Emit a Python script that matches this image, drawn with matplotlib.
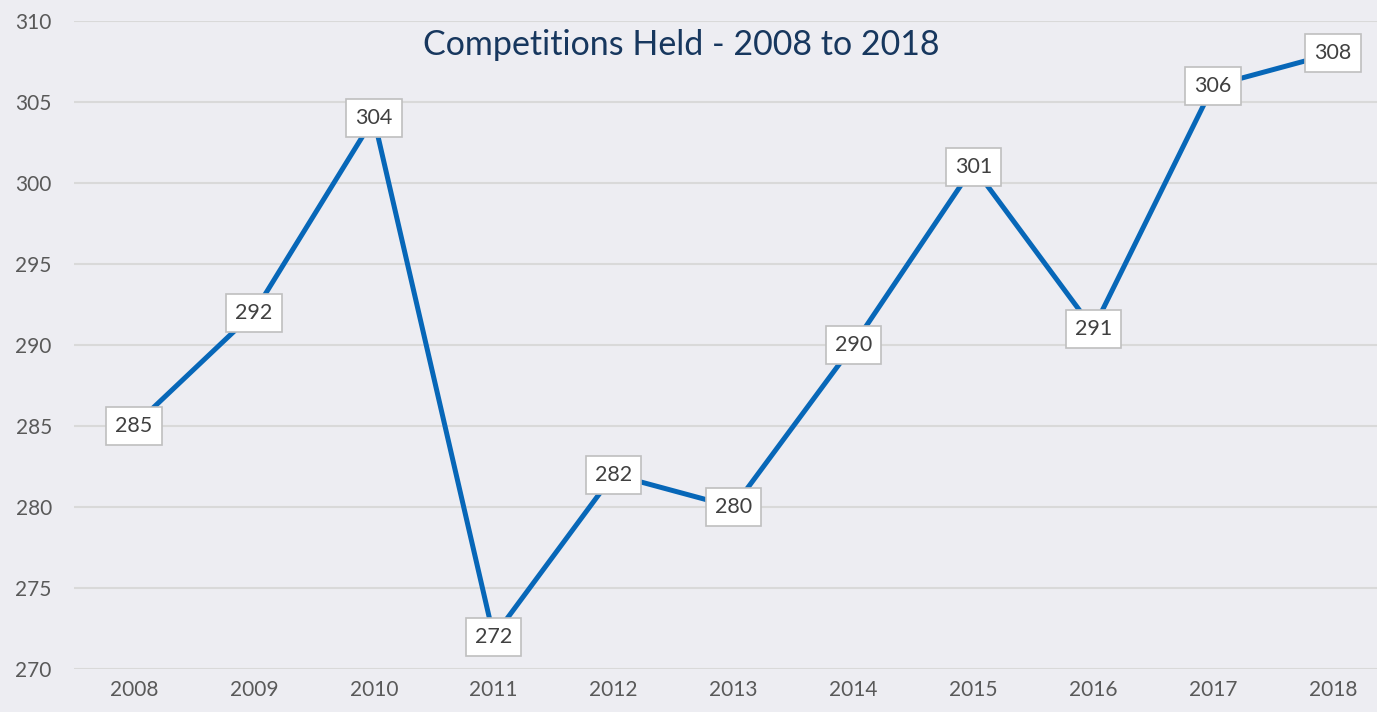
import matplotlib.pyplot as plt

years = ['2008', '2009', '2010', '2011', '2012', '2013', '2014', '2015', '2016', '2017', '2018']
competitions = [285, 292, 304, 272, 282, 280, 290, 301, 291, 306, 308]
y_ticks = [270, 275, 280, 285, 290, 295, 300, 305, 310]

bg = '#EDEDF2'
plt.rcParams['font.family'] = ['Lato', 'DejaVu Sans']

fig = plt.figure(figsize=(13.77, 7.12), dpi=100, facecolor=bg)
# axes runs a bit past the right edge, like the cropped original
ax = fig.add_axes([74 / 1377, 43 / 712, 1319 / 1377, 648 / 712], facecolor=bg)

x = list(range(len(years)))
ax.plot(x, competitions, color='#0767B8', linewidth=3.6, solid_joinstyle='miter', zorder=3)

for xi, v in zip(x, competitions):
    ax.text(xi, v, str(v), ha='center', va='center', fontsize=15.5, color='#404040',
            zorder=4,
            bbox=dict(boxstyle='square,pad=0.42', facecolor='white', edgecolor='#BFBFBF', linewidth=1.2))

ax.set_xlim(-0.5, len(years) - 0.5)
ax.set_ylim(270, 310)
ax.set_xticks(x)
ax.set_xticklabels(years)
ax.set_yticks(y_ticks)
ax.grid(axis='y', color='#D9D9D9', linewidth=1.5, zorder=0)
ax.set_axisbelow(True)
for s in ax.spines.values():
    s.set_visible(False)
ax.tick_params(axis='both', length=0, labelsize=15, labelcolor='#595959')
ax.tick_params(axis='y', pad=16)
ax.tick_params(axis='x', pad=8)

fig.text(681 / 1377, 1 - 45 / 712, 'Competitions Held - 2008 to 2018', ha='center', va='center',
         fontsize=24.5, color='#17375E')

fig.savefig('out.png', dpi=100, facecolor=bg)
